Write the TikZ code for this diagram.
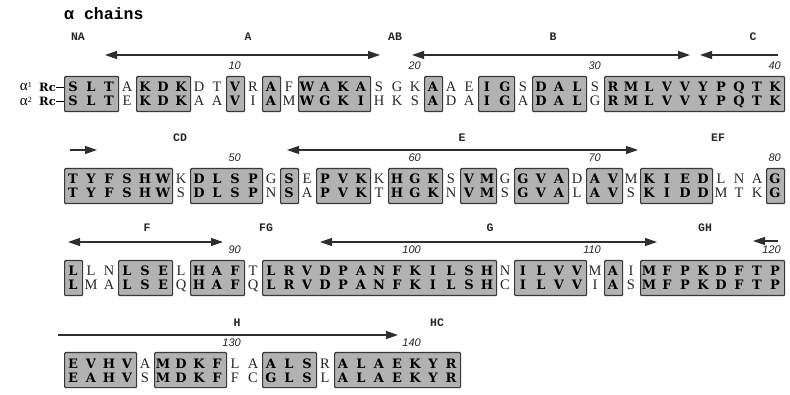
\documentclass[tikz,border=0pt]{standalone}
\usepackage{fontspec}
\setmainfont{Liberation Serif}
\newfontfamily\boldseq{DejaVu Serif}
\newfontfamily\freeseq{Liberation Serif}
\newfontfamily\labfont{Liberation Mono}
\newfontfamily\numfont{Liberation Sans}
\usetikzlibrary{arrows.meta}

\tikzset{
  boxres/.style={font=\boldseq\bfseries\fontsize{13}{13}\selectfont, anchor=base, inner sep=0pt},
  freeres/.style={font=\freeseq\fontsize{14.5}{14.5}\selectfont, anchor=base, inner sep=0pt, text=black!85},
  seqbox/.style={draw=black!78, fill=black!30, line width=1.2pt, rounded corners=1pt, inner sep=0pt},
  region/.style={font=\labfont\bfseries\fontsize{11.5}{11.5}\selectfont, text=black!85, inner sep=0pt},
  num/.style={font=\numfont\itshape\fontsize{11}{11}\selectfont, anchor=base east, inner sep=0pt, text=black!85},
  helix/.style={draw=black!82, line width=1.2pt},
  rclab/.style={font=\boldseq\bfseries\fontsize{11.5}{11.5}\selectfont, anchor=base east, inner sep=0pt},
  alab/.style={font=\freeseq\fontsize{15}{15}\selectfont, anchor=base east, inner sep=0pt},
  title/.style={font=\labfont\bfseries\fontsize{16.5}{16.5}\selectfont, anchor=west, inner sep=0pt}
}

% #1 row id, #2 top y, #3 start column, #4 alpha1 residues, #5 alpha2 residues, #6 boxed (1/0)
\newcommand\seqseg[6]{%
  \foreach \res [count=\k from #3] in {#4} {\xdef\segend{\k}}%
  \ifnum#6=1
    \tikzset{res/.style={boxres}}%
    \node[seqbox, minimum width={18*(\segend-#3+1)}, minimum height=35, anchor=north west]
      (box#1-#3) at ({64+18*(#3-1)}, #2) {};%
  \else
    \tikzset{res/.style={freeres}}%
  \fi
  \foreach \res [count=\k from #3] in {#4} {\node[res] (r#1a1c\k) at ({73+18*(\k-1)}, {#2+16}) {\res};}%
  \foreach \res [count=\k from #3] in {#5} {\node[res] (r#1a2c\k) at ({73+18*(\k-1)}, {#2+30}) {\res};}%
}

\begin{document}
\begin{tikzpicture}[x=1pt, y=-1pt, >={Triangle[length=12pt,width=8pt]}]
\useasboundingbox (0,0) rectangle (790,395);
\fill[white] (0,0) rectangle (790,395);

\node[title] (ttl) at (64,14) {α chains};

% ---------- row 1 ----------
\seqseg{1}{76}{1}{S,L,T}{S,L,T}{1}
\seqseg{1}{76}{4}{A}{E}{0}
\seqseg{1}{76}{5}{K,D,K}{K,D,K}{1}
\seqseg{1}{76}{8}{D,T}{A,A}{0}
\seqseg{1}{76}{10}{V}{V}{1}
\seqseg{1}{76}{11}{R}{I}{0}
\seqseg{1}{76}{12}{A}{A}{1}
\seqseg{1}{76}{13}{F}{M}{0}
\seqseg{1}{76}{14}{W,A,K,A}{W,G,K,I}{1}
\seqseg{1}{76}{18}{S,G,K}{H,K,S}{0}
\seqseg{1}{76}{21}{A}{A}{1}
\seqseg{1}{76}{22}{A,E}{D,A}{0}
\seqseg{1}{76}{24}{I,G}{I,G}{1}
\seqseg{1}{76}{26}{S}{A}{0}
\seqseg{1}{76}{27}{D,A,L}{D,A,L}{1}
\seqseg{1}{76}{30}{S}{G}{0}
\seqseg{1}{76}{31}{R,M,L,V,V,Y,P,Q,T,K}{R,M,L,V,V,Y,P,Q,T,K}{1}

\node[alab] (al1) at (32,91) {α\raisebox{3pt}{\fontsize{8}{8}\selectfont 1}};
\node[alab] (al2) at (32,106) {α\raisebox{3pt}{\fontsize{8}{8}\selectfont 2}};
\node[rclab] (rc1) at (56,92) {Rc};
\node[rclab] (rc2) at (56,106) {Rc};
\draw[line width=1pt] (rc1.east) -- (rc1.east -| box1-1.west);
\draw[line width=1pt] (rc2.east) -- (rc2.east -| box1-1.west);

\node[region] (lNA) at (78,37) {NA};
\node[region] (lA) at (248,37) {A};
\node[region] (lAB) at (395,37) {AB};
\node[region] (lB) at (553,37) {B};
\node[region] (lC) at (753,37) {C};
\coordinate (Aa) at (105,55); \coordinate (Ab) at (380,55);
\coordinate (Ba) at (412,55); \coordinate (Bb) at (690,55);
\coordinate (Ca) at (700,55); \coordinate (Cb) at (778,55);
\draw[helix,<->] (Aa) -- (Ab);
\draw[helix,<->] (Ba) -- (Bb);
\draw[helix,<-] (Ca) -- (Cb);
\node[num] (n10) at (241,70) {10};
\node[num] (n20) at (421,70) {20};
\node[num] (n30) at (601,70) {30};
\node[num] (n40) at (781,70) {40};

% ---------- row 2 ----------
\seqseg{2}{168}{1}{T,Y,F,S,H,W}{T,Y,F,S,H,W}{1}
\seqseg{2}{168}{7}{K}{S}{0}
\seqseg{2}{168}{8}{D,L,S,P}{D,L,S,P}{1}
\seqseg{2}{168}{12}{G}{N}{0}
\seqseg{2}{168}{13}{S}{S}{1}
\seqseg{2}{168}{14}{E}{A}{0}
\seqseg{2}{168}{15}{P,V,K}{P,V,K}{1}
\seqseg{2}{168}{18}{K}{T}{0}
\seqseg{2}{168}{19}{H,G,K}{H,G,K}{1}
\seqseg{2}{168}{22}{S}{N}{0}
\seqseg{2}{168}{23}{V,M}{V,M}{1}
\seqseg{2}{168}{25}{G}{S}{0}
\seqseg{2}{168}{26}{G,V,A}{G,V,A}{1}
\seqseg{2}{168}{29}{D}{L}{0}
\seqseg{2}{168}{30}{A,V}{A,V}{1}
\seqseg{2}{168}{32}{M}{S}{0}
\seqseg{2}{168}{33}{K,I,E,D}{K,I,D,D}{1}
\seqseg{2}{168}{37}{L,N,A}{M,T,K}{0}
\seqseg{2}{168}{40}{G}{G}{1}

\node[region] (lCD) at (180,138) {CD};
\node[region] (lE) at (462,138) {E};
\node[region] (lEF) at (718,138) {EF};
\coordinate (C2a) at (70,150); \coordinate (C2b) at (97,150);
\coordinate (Ea) at (287,150); \coordinate (Eb) at (638,150);
\draw[helix,->] (C2a) -- (C2b);
\draw[helix,<->] (Ea) -- (Eb);
\node[num] (n50) at (241,162) {50};
\node[num] (n60) at (421,162) {60};
\node[num] (n70) at (601,162) {70};
\node[num] (n80) at (781,162) {80};

% ---------- row 3 ----------
\seqseg{3}{260}{1}{L}{L}{1}
\seqseg{3}{260}{2}{L,N}{M,A}{0}
\seqseg{3}{260}{4}{L,S,E}{L,S,E}{1}
\seqseg{3}{260}{7}{L}{Q}{0}
\seqseg{3}{260}{8}{H,A,F}{H,A,F}{1}
\seqseg{3}{260}{11}{T}{Q}{0}
\seqseg{3}{260}{12}{L,R,V,D,P,A,N,F,K,I,L,S,H}{L,R,V,D,P,A,N,F,K,I,L,S,H}{1}
\seqseg{3}{260}{25}{N}{C}{0}
\seqseg{3}{260}{26}{I,L,V,V}{I,L,V,V}{1}
\seqseg{3}{260}{30}{M}{I}{0}
\seqseg{3}{260}{31}{A}{A}{1}
\seqseg{3}{260}{32}{I}{S}{0}
\seqseg{3}{260}{33}{M,F,P,K,D,F,T,P}{M,F,P,K,D,F,T,P}{1}

\node[region] (lF) at (147,228) {F};
\node[region] (lFG) at (266,228) {FG};
\node[region] (lG) at (490,228) {G};
\node[region] (lGH) at (705,228) {GH};
\coordinate (Fa) at (68,242); \coordinate (Fb) at (223,242);
\coordinate (Ga) at (320,242); \coordinate (Gb) at (657,242);
\coordinate (Ha) at (753,241); \coordinate (Hb) at (778,241);
\draw[helix,<->] (Fa) -- (Fb);
\draw[helix,<->] (Ga) -- (Gb);
\draw[helix,<-] (Ha) -- (Hb);
\node[num] (n90) at (241,254) {90};
\node[num] (n100) at (421,254) {100};
\node[num] (n110) at (601,254) {110};
\node[num] (n120) at (781,254) {120};

% ---------- row 4 ----------
\seqseg{4}{352}{1}{E,V,H,V}{E,A,H,V}{1}
\seqseg{4}{352}{5}{A}{S}{0}
\seqseg{4}{352}{6}{M,D,K,F}{M,D,K,F}{1}
\seqseg{4}{352}{10}{L,A}{F,C}{0}
\seqseg{4}{352}{12}{A,L,S}{G,L,S}{1}
\seqseg{4}{352}{15}{R}{L}{0}
\seqseg{4}{352}{16}{A,L,A,E,K,Y,R}{A,L,A,E,K,Y,R}{1}

\node[region] (lH) at (237,323) {H};
\node[region] (lHC) at (437,323) {HC};
\coordinate (H2a) at (58,335); \coordinate (H2b) at (398,335);
\draw[helix,->] (H2a) -- (H2b);
\node[num] (n130) at (241,346) {130};
\node[num] (n140) at (421,346) {140};
\end{tikzpicture}
\end{document}
